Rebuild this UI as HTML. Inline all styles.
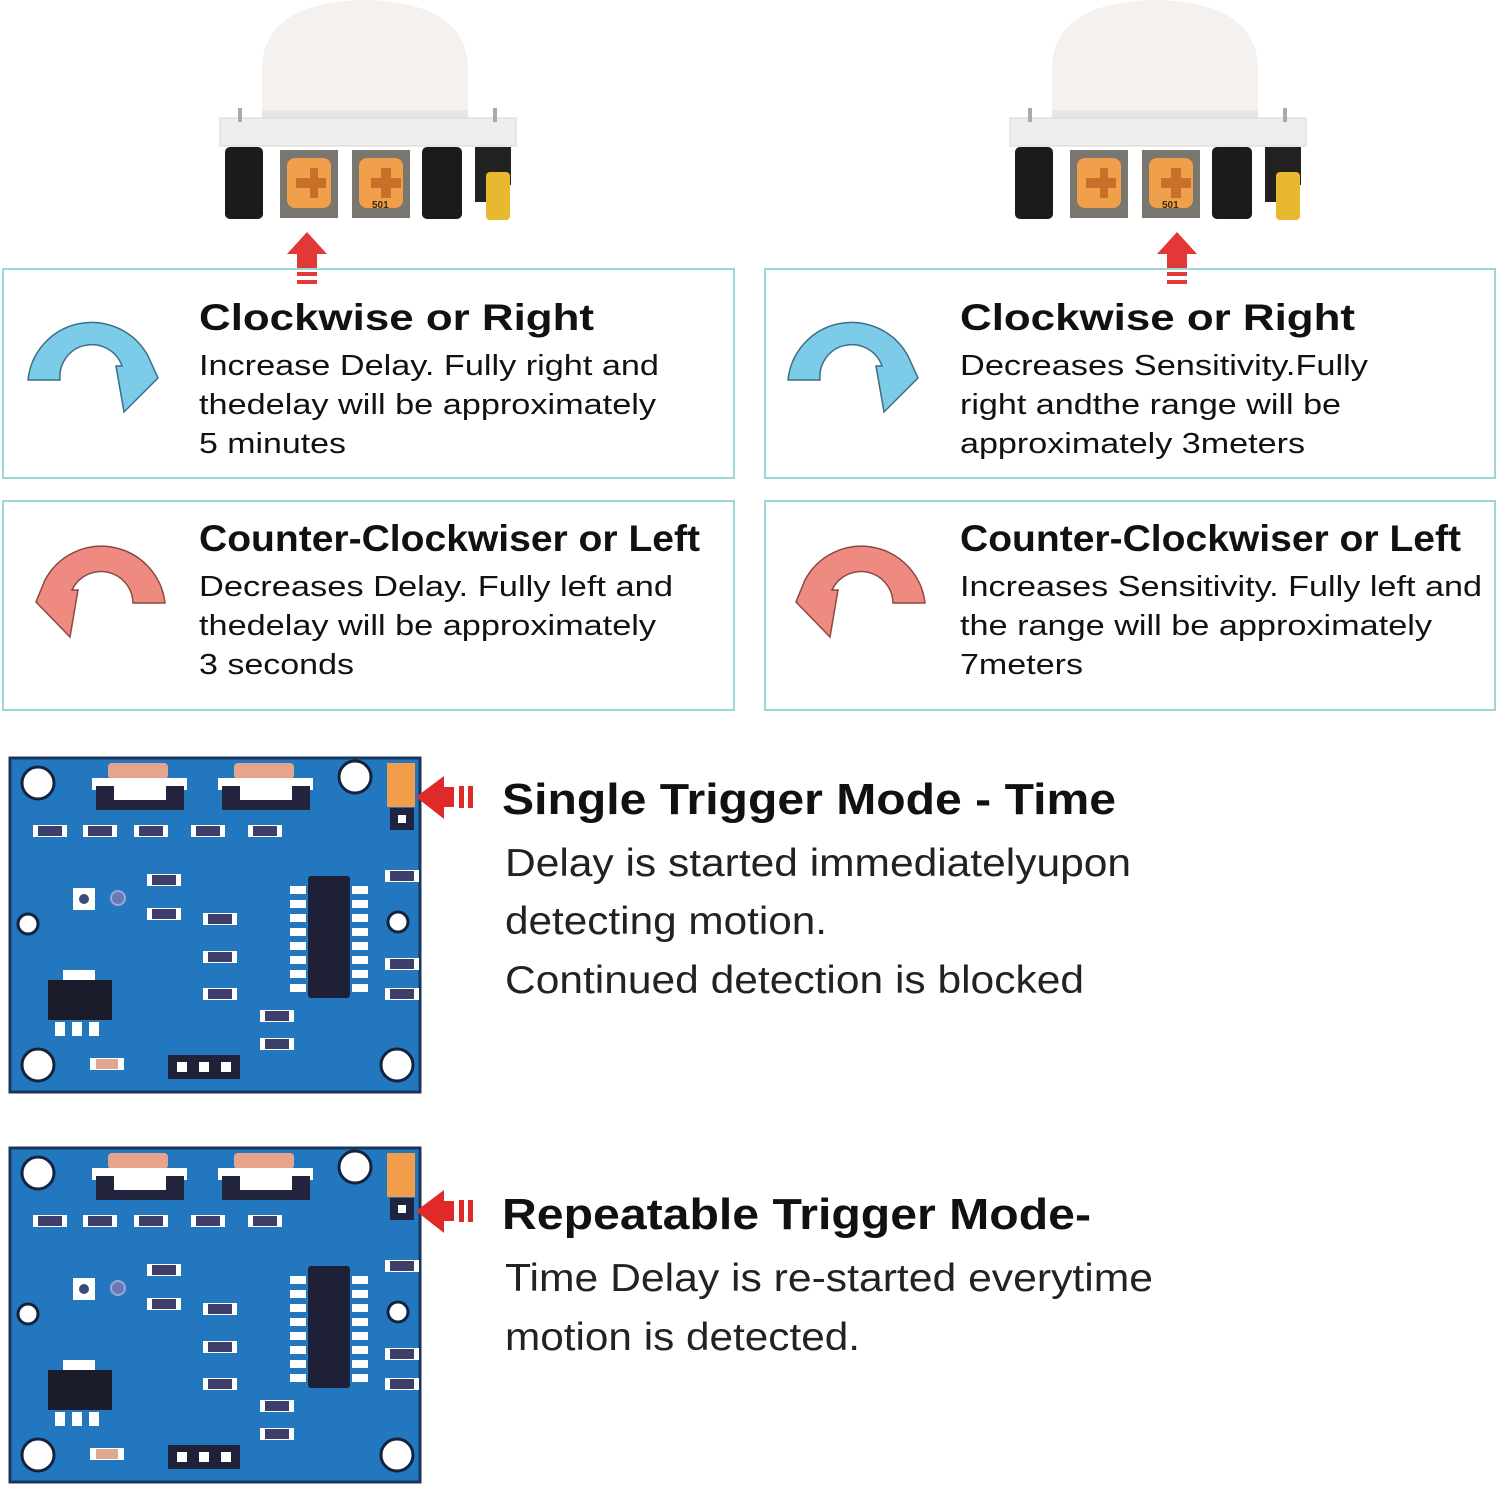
<!DOCTYPE html>
<html><head><meta charset="utf-8"><style>
html,body{margin:0;padding:0;background:#fff;}
svg{display:block;}
text{font-family:"Liberation Sans",Arial,sans-serif;fill:#111;}
.h{font-weight:bold;font-size:37px;}
.b{font-size:29px;}
.H{font-weight:bold;font-size:44px;}
.B{font-size:39px;fill:#222;}
</style></head><body>
<svg width="1500" height="1490" viewBox="0 0 1500 1490" xmlns="http://www.w3.org/2000/svg">
<defs>
<g id="sensor">
  <!-- dome -->
  <path d="M262,125 L262,70 Q262,2 365,0 Q468,2 468,70 L468,125 Z" fill="#f4f1ee"/>
  <path d="M262,110 L468,110 L468,128 L262,128 Z" fill="#e9e6e3"/>
  <!-- board -->
  <rect x="220" y="118" width="296" height="28" fill="#eeeeee" stroke="#d5d5d5"/>
  <rect x="238" y="108" width="4" height="14" fill="#aaa"/>
  <rect x="493" y="108" width="4" height="14" fill="#aaa"/>
  <!-- caps -->
  <rect x="225" y="147" width="38" height="72" rx="5" fill="#1b1b1b"/>
  <rect x="422" y="147" width="40" height="72" rx="5" fill="#1b1b1b"/>
  <!-- pots -->
  <rect x="280" y="150" width="58" height="68" fill="#7a7670"/>
  <rect x="287" y="158" width="44" height="50" rx="8" fill="#f0a04a"/>
  <path d="M302,178 h14 v-10 h8 v10 h8 v10 h-8 v10 h-8 v-10 h-14z" fill="#c8702a" transform="translate(-6,0)"/>
  <rect x="352" y="150" width="58" height="68" fill="#7a7670"/>
  <rect x="359" y="158" width="44" height="50" rx="8" fill="#f0a04a"/>
  <path d="M371,178 h10 v-10 h10 v10 h10 v10 h-10 v10 h-10 v-10 h-10z" fill="#c8702a"/>
  <text x="372" y="208" style="font-size:10px;font-weight:bold;fill:#3a2a10">501</text>
  <!-- yellow jumper -->
  <rect x="475" y="147" width="12" height="55" fill="#222"/>
  <rect x="487" y="147" width="24" height="38" fill="#222"/>
  <rect x="486" y="172" width="24" height="48" rx="4" fill="#e8b830"/>
</g>
<g id="upArrow">
  <path d="M0,22 L20,0 L40,22 L30,22 L30,36 L10,36 L10,22 Z" fill="#e23838"/>
  <rect x="10" y="40" width="20" height="4" fill="#e23838"/>
  <rect x="10" y="48" width="20" height="4" fill="#e23838"/>
</g>
<g id="leftArrow">
  <path d="M0,21 L28,0 L28,11 L38,11 L38,31 L28,31 L28,43 Z" fill="#e02a2a"/>
  <rect x="43" y="10" width="5" height="22" fill="#e02a2a"/>
  <rect x="52" y="10" width="5" height="22" fill="#e02a2a"/>
</g>
<g id="res"><rect x="0" y="0" width="34" height="12" fill="#fff"/><rect x="5" y="1" width="24" height="10" fill="#3d3f6a"/></g>
<g id="pcb">
  <rect x="0" y="0" width="410" height="334" fill="#2377bf" stroke="#18355e" stroke-width="3"/>
  <g fill="#fff" stroke="#14233d" stroke-width="3">
    <circle cx="28" cy="25" r="16"/><circle cx="345" cy="19" r="16"/>
    <circle cx="28" cy="307" r="16"/><circle cx="387" cy="307" r="16"/>
    <circle cx="18" cy="166" r="10"/><circle cx="388" cy="164" r="10"/>
  </g>
  <!-- pots -->
  <rect x="98" y="5" width="60" height="16" rx="4" fill="#e7a48c"/>
  <rect x="82" y="20" width="95" height="12" fill="#fff"/>
  <rect x="86" y="28" width="88" height="24" fill="#22253d"/>
  <rect x="104" y="22" width="52" height="20" fill="#fff"/>
  <rect x="224" y="5" width="60" height="16" rx="4" fill="#e7a48c"/>
  <rect x="208" y="20" width="95" height="12" fill="#fff"/>
  <rect x="212" y="28" width="88" height="24" fill="#22253d"/>
  <rect x="230" y="22" width="52" height="20" fill="#fff"/>
  <!-- jumper -->
  <rect x="377" y="5" width="28" height="44" fill="#f29d4a"/>
  <rect x="380" y="50" width="24" height="22" fill="#1f2440"/>
  <rect x="388" y="57" width="8" height="8" fill="#fff"/>
  <!-- resistors row -->
  <use href="#res" x="23" y="67"/><use href="#res" x="73" y="67"/><use href="#res" x="124" y="67"/><use href="#res" x="181" y="67"/><use href="#res" x="238" y="67"/>
  <use href="#res" x="137" y="116"/><use href="#res" x="137" y="150"/>
  <use href="#res" x="193" y="155"/><use href="#res" x="193" y="193"/><use href="#res" x="193" y="230"/>
  <use href="#res" x="250" y="252"/><use href="#res" x="250" y="280"/>
  <use href="#res" x="375" y="112"/><use href="#res" x="375" y="200"/><use href="#res" x="375" y="230"/>
  <rect x="80" y="300" width="34" height="12" fill="#fff"/><rect x="86" y="301" width="22" height="10" fill="#e0a890"/>
  <!-- test points -->
  <rect x="63" y="130" width="22" height="22" fill="#fff"/><circle cx="74" cy="141" r="5" fill="#3c4a7a"/>
  <circle cx="108" cy="140" r="7" fill="#6a78b8" stroke="#9aa8d8" stroke-width="2"/>
  <!-- IC -->
  <rect x="298" y="118" width="42" height="122" rx="3" fill="#1e2038"/>
  <g fill="#fff">
    <rect x="280" y="128" width="16" height="8"/><rect x="280" y="142" width="16" height="8"/><rect x="280" y="156" width="16" height="8"/><rect x="280" y="170" width="16" height="8"/><rect x="280" y="184" width="16" height="8"/><rect x="280" y="198" width="16" height="8"/><rect x="280" y="212" width="16" height="8"/><rect x="280" y="226" width="16" height="8"/>
    <rect x="342" y="128" width="16" height="8"/><rect x="342" y="142" width="16" height="8"/><rect x="342" y="156" width="16" height="8"/><rect x="342" y="170" width="16" height="8"/><rect x="342" y="184" width="16" height="8"/><rect x="342" y="198" width="16" height="8"/><rect x="342" y="212" width="16" height="8"/><rect x="342" y="226" width="16" height="8"/>
  </g>
  <!-- regulator -->
  <rect x="53" y="212" width="32" height="12" fill="#fff"/>
  <rect x="38" y="222" width="64" height="40" fill="#1a1c2c"/>
  <rect x="45" y="264" width="10" height="14" fill="#fff"/><rect x="62" y="264" width="10" height="14" fill="#fff"/><rect x="79" y="264" width="10" height="14" fill="#fff"/>
  <!-- header -->
  <rect x="158" y="297" width="72" height="24" fill="#1e2138"/>
  <rect x="167" y="304" width="10" height="10" fill="#fff"/><rect x="189" y="304" width="10" height="10" fill="#fff"/><rect x="211" y="304" width="10" height="10" fill="#fff"/>
</g>
<path id="cw" d="M28,380 A64,64 0 0 1 148,356 L158,378 L124,412 L116,366 L122,366 A32,32 0 0 0 60,380 Z" fill="#7ccbe8" stroke="#3b6f86" stroke-width="1.5"/>
<path id="ccw" d="M165,603 A64,64 0 0 0 45,580 L36,602 L70,637 L78,590 L72,590 A32,32 0 0 1 133,603 Z" fill="#ef8a80" stroke="#8a4a44" stroke-width="1.5"/>
</defs>

<use href="#sensor"/>
<use href="#sensor" x="790"/>
<use href="#upArrow" x="287" y="232"/>
<use href="#upArrow" x="1157" y="232"/>

<g fill="none" stroke="#9dd6d6" stroke-width="2">
  <rect x="3" y="269" width="731" height="209"/>
  <rect x="765" y="269" width="730" height="209"/>
  <rect x="3" y="501" width="731" height="209"/>
  <rect x="765" y="501" width="730" height="209"/>
</g>

<use href="#cw"/>
<use href="#cw" x="760"/>
<use href="#ccw"/>
<use href="#ccw" x="760"/>

<text class="h" x="199" y="330" textLength="395" lengthAdjust="spacingAndGlyphs">Clockwise or Right</text>
<text class="b" x="199" y="375" textLength="460" lengthAdjust="spacingAndGlyphs">Increase Delay. Fully right and</text>
<text class="b" x="199" y="414" textLength="457" lengthAdjust="spacingAndGlyphs">thedelay will be approximately</text>
<text class="b" x="199" y="453" textLength="147" lengthAdjust="spacingAndGlyphs">5 minutes</text>

<text class="h" x="960" y="330" textLength="395" lengthAdjust="spacingAndGlyphs">Clockwise or Right</text>
<text class="b" x="960" y="375" textLength="408" lengthAdjust="spacingAndGlyphs">Decreases Sensitivity.Fully</text>
<text class="b" x="960" y="414" textLength="381" lengthAdjust="spacingAndGlyphs">right andthe range will be</text>
<text class="b" x="960" y="453" textLength="345" lengthAdjust="spacingAndGlyphs">approximately 3meters</text>

<text class="h" x="199" y="551" textLength="501" lengthAdjust="spacingAndGlyphs">Counter-Clockwiser or Left</text>
<text class="b" x="199" y="596" textLength="474" lengthAdjust="spacingAndGlyphs">Decreases Delay. Fully left and</text>
<text class="b" x="199" y="635" textLength="457" lengthAdjust="spacingAndGlyphs">thedelay will be approximately</text>
<text class="b" x="199" y="674" textLength="155" lengthAdjust="spacingAndGlyphs">3 seconds</text>

<text class="h" x="960" y="551" textLength="501" lengthAdjust="spacingAndGlyphs">Counter-Clockwiser or Left</text>
<text class="b" x="960" y="596" textLength="522" lengthAdjust="spacingAndGlyphs">Increases Sensitivity. Fully left and</text>
<text class="b" x="960" y="635" textLength="472" lengthAdjust="spacingAndGlyphs">the range will be approximately</text>
<text class="b" x="960" y="674" textLength="123" lengthAdjust="spacingAndGlyphs">7meters</text>

<use href="#pcb" x="10" y="758"/>
<use href="#pcb" x="10" y="1148"/>
<use href="#leftArrow" x="416" y="776"/>
<use href="#leftArrow" x="416" y="1190"/>

<text class="H" x="502" y="814" textLength="614" lengthAdjust="spacingAndGlyphs">Single Trigger Mode - Time</text>
<text class="B" x="505" y="876" textLength="626" lengthAdjust="spacingAndGlyphs">Delay is started immediatelyupon</text>
<text class="B" x="505" y="934" textLength="322" lengthAdjust="spacingAndGlyphs">detecting motion.</text>
<text class="B" x="505" y="993" textLength="579" lengthAdjust="spacingAndGlyphs">Continued detection is blocked</text>

<text class="H" x="502" y="1229" textLength="589" lengthAdjust="spacingAndGlyphs">Repeatable Trigger Mode-</text>
<text class="B" x="505" y="1291" textLength="648" lengthAdjust="spacingAndGlyphs">Time Delay is re-started everytime</text>
<text class="B" x="505" y="1350" textLength="355" lengthAdjust="spacingAndGlyphs">motion is detected.</text>
</svg>
</body></html>
